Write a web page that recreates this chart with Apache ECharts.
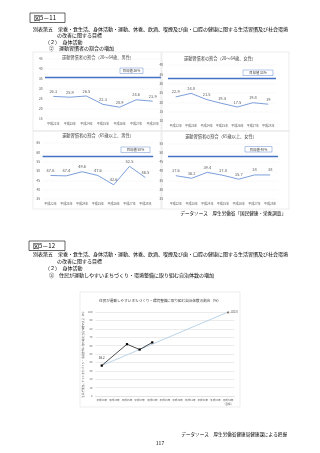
<!DOCTYPE html>
<html>
<head>
<meta charset="utf-8">
<script src="https://cdn.jsdelivr.net/npm/echarts@6/dist/echarts.min.js"></script>
<style>
  html, body { margin: 0; padding: 0; background: #fff; }
  #main { width: 320px; height: 453px; }
</style>
</head>
<body>
<div id="main"></div>
<script>
// 年度
var yearsA = ['平成22年', '平成23年', '平成24年', '平成25年', '平成26年', '平成27年', '平成28年'];
// 運動習慣者の割合
var male2064 = [26.3, 25.9, 26.5, 22.3, 20.9, 24.6, 23.9];
var female2064 = [22.9, 24.8, 21.5, 19.4, 17.5, 19.8, 19];
var male65 = [47.6, 47.4, 49.6, 47.6, 42.6, 52.5, 46.5];
var female65 = [37.6, 36.2, 39.4, 37.8, 35.7, 38, 38];
var targets = [36, 33, 58, 48];
var yMins = [15, 10, 35, 25];
var yMaxs = [45, 40, 65, 55];

// 図5-12
var yearsB = ['平成24年', '平成25年', '平成26年', '平成27年', '平成28年', '平成29年', '平成30年', '平成31年', '平成32年', '平成33年', '平成34年\n（目標）'];
var townActual = [36.2, null, 61.7, 55.3, 63.8, null, null, null, null, null, null];
var townTarget = [36.2, null, null, null, null, null, null, null, null, null, 100.0];

var FONT = '"Noto Sans CJK JP", sans-serif';
var chartDom = document.getElementById('main');
var myChart = echarts.init(chartDom);

var titles = ['運動習慣者の割合（20～64歳、男性）', '運動習慣者の割合（20～64歳、女性）',
              '運動習慣者の割合（65歳以上、男性）', '運動習慣者の割合（65歳以上、女性）'];
var seriesSet = [male2064, female2064, male65, female65];
// 各グラフの位置
var grids = [
    { left: 45, top: 59, width: 116, height: 60 },
    { left: 168, top: 65, width: 108, height: 56 },
    { left: 42.6, top: 143, width: 110.6, height: 56 },
    { left: 168, top: 143.5, width: 110, height: 55.5 },
    { left: 95.4, top: 312, width: 139, height: 84 }
];
var titlePos = [[98, 57], [220, 58], [98, 135], [221, 136]];
var boxPos = [[120, 68, 23, 5.5], [243, 70, 30, 5.5], [121, 147, 29, 5.5], [245, 146.5, 27, 5.5]];

function txt(text, x, y, size, opt) {
    opt = opt || {};
    return {
        type: 'text', silent: true,
        style: {
            text: text, x: x, y: y, fontSize: size, fontFamily: FONT,
            fill: opt.fill || '#000', align: opt.align || 'left', verticalAlign: 'middle'
        }
    };
}
function box(x, y, w, h, stroke, lw) {
    return {
        type: 'rect', silent: true,
        shape: { x: x, y: y, width: w, height: h },
        style: { fill: 'none', stroke: stroke, lineWidth: lw }
    };
}

var graphic = [];
// 枠線
graphic.push(box(33, 52, 128, 79, '#d9d9d9', 0.5));
graphic.push(box(162, 52, 127, 79, '#d9d9d9', 0.5));
graphic.push(box(33, 131, 128, 78, '#d9d9d9', 0.5));
graphic.push(box(162, 131, 127, 78, '#d9d9d9', 0.5));
graphic.push(box(80, 292, 160, 115, '#d9d9d9', 0.5));

// 見出し
graphic.push(box(30, 13, 35, 9.5, '#000', 0.6));
graphic.push(txt('図5－11', 34, 18, 6));
graphic.push(txt('別表第五　栄養・食生活、身体活動・運動、休養、飲酒、喫煙及び歯・口腔の健康に関する生活習慣及び社会環境', 33, 29, 5));
graphic.push(txt('の改善に関する目標', 57, 35.5, 5));
graphic.push(txt('（２）　身体活動', 45, 42, 5));
graphic.push(txt('②　運動習慣者の割合の増加', 49, 48.5, 5));

graphic.push(box(29, 241, 36, 9.5, '#000', 0.6));
graphic.push(txt('図5－12', 33, 246, 6));
graphic.push(txt('別表第五　栄養・食生活、身体活動・運動、休養、飲酒、喫煙及び歯・口腔の健康に関する生活習慣及び社会環境', 33, 254, 5));
graphic.push(txt('の改善に関する目標', 57, 261, 5));
graphic.push(txt('（２）　身体活動', 45, 268, 5));
graphic.push(txt('③　住民が運動しやすいまちづくり・環境整備に取り組む自治体数の増加', 49, 275, 5));

for (var i = 0; i < 4; i++) {
    graphic.push(txt(titles[i], titlePos[i][0], titlePos[i][1], 4.2, { align: 'center', fill: '#404040' }));
}
graphic.push(txt('住民が運動しやすいまちづくり・環境整備に取り組む自治体数の割合（%）', 160, 301, 3.6, { align: 'center', fill: '#404040' }));

graphic.push(txt('データソース　厚生労働省「国民健康・栄養調査」', 286, 213, 4.6, { align: 'right' }));
graphic.push(txt('データソース　厚生労働省健康局健康課による把握', 287, 434, 4.6, { align: 'right' }));
graphic.push(txt('117', 160, 443, 5, { align: 'center' }));

var xAxes = [], yAxes = [], series = [];
for (var k = 0; k < 4; k++) {
    xAxes.push({
        type: 'category', gridIndex: k, data: yearsA,
        axisLine: { show: false }, axisTick: { show: false },
        axisLabel: { fontSize: 3, color: '#595959', margin: 3, interval: 0, fontFamily: FONT }
    });
    yAxes.push({
        type: 'value', gridIndex: k, min: yMins[k], max: yMaxs[k], interval: 5,
        axisLine: { show: false }, axisTick: { show: false },
        splitLine: { lineStyle: { color: '#f0f0f0', width: 0.4 } },
        axisLabel: { fontSize: 3.2, color: '#595959', margin: k % 2 ? 5 : 2.5, fontFamily: FONT }
    });
    series.push({
        type: 'line', xAxisIndex: k, yAxisIndex: k, data: seriesSet[k],
        symbol: 'circle', symbolSize: 1, showSymbol: true,
        itemStyle: { color: 'rgba(0,0,0,0)' },
        lineStyle: { color: '#5b86d0', width: 0.8 },
        label: { show: true, position: 'top', distance: 2.5, fontSize: 4, color: '#595959', fontFamily: FONT },
        labelLayout: { hideOverlap: false },
        markLine: {
            silent: true, symbol: 'none', label: { show: false },
            lineStyle: { color: '#4472c4', width: 1.3, type: 'solid' },
            data: [{ yAxis: targets[k] }]
        }
    });
    var b = boxPos[k];
    graphic.push({
        type: 'rect', silent: true, z: 10,
        shape: { x: b[0], y: b[1], width: b[2], height: b[3] },
        style: { fill: '#fff', stroke: '#4472c4', lineWidth: 0.4 }
    });
    var t = txt('目標値 ' + targets[k] + '%', b[0] + b[2] / 2, b[1] + b[3] / 2, 3.3, { align: 'center', fill: '#404040' });
    t.z = 11;
    graphic.push(t);
}

// 図5-12 のグラフ
xAxes.push({
    type: 'category', gridIndex: 4, data: yearsB,
    axisLine: { lineStyle: { color: '#d9d9d9', width: 0.5 } }, axisTick: { show: false },
    axisLabel: { fontSize: 2.6, color: '#595959', margin: 2.5, interval: 0, lineHeight: 3.4, fontFamily: FONT }
});
yAxes.push({
    type: 'value', gridIndex: 4, min: 0, max: 100, interval: 10,
    name: '住民が運動しやすいまちづくり・環境整備に取り組む自治体数の割合（%）',
    nameLocation: 'middle', nameGap: 10, nameRotate: 90,
    nameTextStyle: { fontSize: 2.6, color: '#595959', fontFamily: FONT },
    axisLine: { show: false }, axisTick: { show: false },
    splitLine: { lineStyle: { color: '#d9d9d9', width: 0.5 } },
    axisLabel: { fontSize: 2.6, color: '#595959', margin: 3, fontFamily: FONT }
});
series.push({
    type: 'line', xAxisIndex: 4, yAxisIndex: 4, data: townTarget, connectNulls: true,
    symbol: 'none', lineStyle: { color: '#a9c9e2', width: 0.8 }, z: 1
});
series.push({
    type: 'line', xAxisIndex: 4, yAxisIndex: 4, data: townActual, connectNulls: true,
    symbol: 'rect', symbolSize: 2.2, itemStyle: { color: '#000' },
    lineStyle: { color: '#000', width: 0.7 }, z: 3,
    label: {
        show: true, fontSize: 3, color: '#404040', fontFamily: FONT, position: 'top',
        formatter: function (p) { return p.dataIndex === 0 ? p.value.toFixed(1) : ''; }
    }
});
series.push({
    type: 'scatter', xAxisIndex: 4, yAxisIndex: 4,
    data: townTarget.map(function (v, i) { return i === 10 ? v : null; }),
    symbol: 'triangle', symbolSize: 2.5, itemStyle: { color: '#5a3a1e' }, z: 4,
    label: {
        show: true, position: 'right', distance: 1, fontSize: 3, color: '#404040', fontFamily: FONT,
        formatter: function (p) { return p.value.toFixed(1); }
    }
});

var option = {
    animation: false,
    backgroundColor: '#fff',
    textStyle: { fontFamily: FONT },
    grid: grids.map(function (g) { return { left: g.left, top: g.top, width: g.width, height: g.height, containLabel: false }; }),
    xAxis: xAxes,
    yAxis: yAxes,
    series: series,
    graphic: graphic
};
option && myChart.setOption(option);
</script>
</body>
</html>
